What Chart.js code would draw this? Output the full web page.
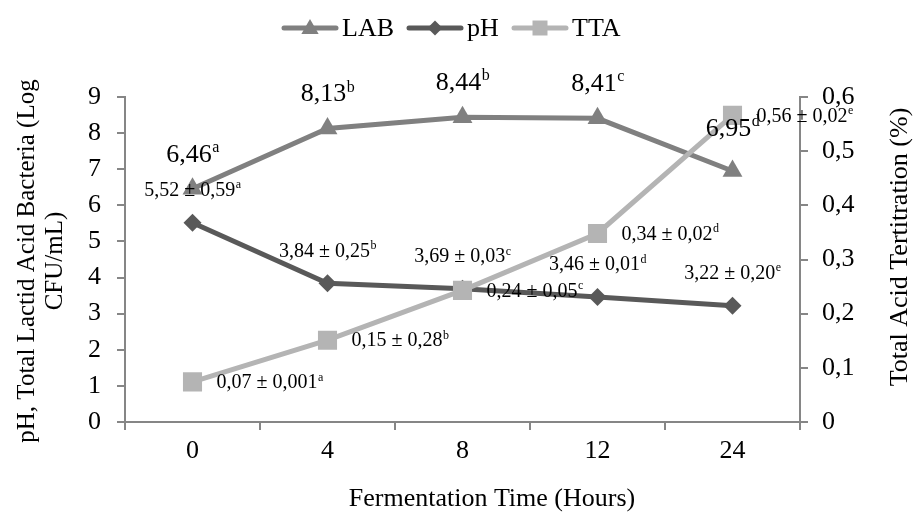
<!DOCTYPE html>
<html>
<head>
<meta charset="utf-8">
<script src="https://cdn.jsdelivr.net/npm/chart.js@4/dist/chart.umd.min.js"></script>
<style>
  html, body { margin: 0; padding: 0; background: #fff; }
  #wrap { width: 913px; height: 512px; position: relative; }
</style>
</head>
<body>
<div id="wrap"><canvas id="c"></canvas></div>
<script>
// ---- data ----
const categories = ['0', '4', '8', '12', '24'];
const labValues = [6.46, 8.13, 8.44, 8.41, 6.95];
const labSup = ['a', 'b', 'b', 'c', 'd'];
const phValues = [5.52, 3.84, 3.69, 3.46, 3.22];
const phSd = ['0,59', '0,25', '0,03', '0,01', '0,20'];
const phSup = ['a', 'b', 'c', 'd', 'e'];
const ttaValues = [0.074, 0.151, 0.243, 0.348, 0.566];
const ttaMean = ['0,07', '0,15', '0,24', '0,34', '0,56'];
const ttaSd = ['0,001', '0,28', '0,05', '0,02', '0,02'];
const ttaSup = ['a', 'b', 'c', 'd', 'e'];
const leftTickLabels = ['0', '1', '2', '3', '4', '5', '6', '7', '8', '9'];
const rightTickLabels = ['0', '0,1', '0,2', '0,3', '0,4', '0,5', '0,6'];
const seriesNames = ['LAB', 'pH', 'TTA'];
const leftTitle = ['pH, Total Lactid Acid Bacteria (Log', 'CFU/mL)'];
const rightTitle = 'Total Acid Tertitration (%)';
const xTitle = 'Fermentation Time (Hours)';

// ---- styles ----
const FONT = '"Liberation Serif", "Times New Roman", serif';
const C_LAB = 'rgb(128,128,128)';
const C_PH = 'rgb(89,89,89)';
const C_TTA = 'rgb(180,180,180)';
const C_AXIS = 'rgb(134,134,134)';

function fmt(v) { return String(v).replace('.', ','); }

function drawSup(ctx, x, y, main, sup, size, align) {
  ctx.font = size + 'px ' + FONT;
  const w1 = ctx.measureText(main).width;
  const ss = Math.round(size * 0.62);
  ctx.font = ss + 'px ' + FONT;
  const w2 = ctx.measureText(sup).width;
  const total = w1 + w2;
  const sx = align === 'center' ? x - total / 2 : x;
  ctx.textAlign = 'left';
  ctx.textBaseline = 'middle';
  ctx.fillStyle = '#000';
  ctx.font = size + 'px ' + FONT;
  ctx.fillText(main, sx, y);
  ctx.font = ss + 'px ' + FONT;
  ctx.fillText(sup, sx + w1 + 0.5, y - size * 0.27);
}

const labelPlugin = {
  id: 'labels',
  afterDatasetsDraw(chart) {
    const ctx = chart.ctx;
    ctx.save();
    const mLab = chart.getDatasetMeta(0).data;
    const mPh = chart.getDatasetMeta(1).data;
    const mTta = chart.getDatasetMeta(2).data;
    for (let i = 0; i < categories.length; i++) {
      drawSup(ctx, mLab[i].x, mLab[i].y - 34 - (i === 4 ? 8 : 0), fmt(labValues[i]), labSup[i], 26, 'center');
      drawSup(ctx, mPh[i].x, mPh[i].y - 32, fmt(phValues[i]) + ' \u00b1 ' + phSd[i], phSup[i], 20, 'center');
      drawSup(ctx, mTta[i].x + 24, mTta[i].y + 1, ttaMean[i] + ' \u00b1 ' + ttaSd[i], ttaSup[i], 20, 'left');
    }
    ctx.restore();
  }
};

function marker(ctx, type, x, y, r, color) {
  ctx.fillStyle = color;
  ctx.beginPath();
  if (type === 'triangle') {
    ctx.moveTo(x, y - r);
    ctx.lineTo(x + r * 0.866, y + r * 0.5);
    ctx.lineTo(x - r * 0.866, y + r * 0.5);
  } else if (type === 'rectRot') {
    ctx.moveTo(x, y - r); ctx.lineTo(x + r, y); ctx.lineTo(x, y + r); ctx.lineTo(x - r, y);
  } else {
    ctx.rect(x - r, y - r, 2 * r, 2 * r);
  }
  ctx.closePath();
  ctx.fill();
}

const decorPlugin = {
  id: 'decor',
  afterDraw(chart) {
    const ctx = chart.ctx;
    ctx.save();
    // legend
    const items = [
      { name: seriesNames[0], color: C_LAB, type: 'triangle', x0: 284, r: 10 },
      { name: seriesNames[1], color: C_PH, type: 'rectRot', x0: 409, r: 7.5 },
      { name: seriesNames[2], color: C_TTA, type: 'rect', x0: 514, r: 7.5 }
    ];
    const ly = 28;
    items.forEach(it => {
      ctx.strokeStyle = it.color;
      ctx.lineWidth = 5;
      ctx.lineCap = 'round';
      ctx.beginPath();
      ctx.moveTo(it.x0, ly);
      ctx.lineTo(it.x0 + 52, ly);
      ctx.stroke();
      marker(ctx, it.type, it.x0 + 26, ly + (it.type === 'triangle' ? 1 : 0), it.r, it.color);
      ctx.fillStyle = '#000';
      ctx.font = '26px ' + FONT;
      ctx.textAlign = 'left';
      ctx.textBaseline = 'middle';
      ctx.fillText(it.name, it.x0 + 58, ly + 1);
    });
    // axis titles
    ctx.fillStyle = '#000';
    ctx.textAlign = 'center';
    ctx.textBaseline = 'middle';
    ctx.font = '25px ' + FONT;
    ctx.save();
    ctx.translate(27, 261);
    ctx.rotate(-Math.PI / 2);
    ctx.fillText(leftTitle[0], 0, 0);
    ctx.restore();
    ctx.save();
    ctx.translate(55, 261);
    ctx.rotate(-Math.PI / 2);
    ctx.fillText(leftTitle[1], 0, 0);
    ctx.restore();
    ctx.font = '26px ' + FONT;
    ctx.save();
    ctx.translate(900, 247);
    ctx.rotate(-Math.PI / 2);
    ctx.fillText(rightTitle, 0, 0);
    ctx.restore();
    ctx.fillText(xTitle, 492, 499);
    ctx.restore();
  }
};

new Chart(document.getElementById('c'), {
  type: 'line',
  data: {
    labels: categories,
    datasets: [
      { label: seriesNames[0], data: labValues, yAxisID: 'y', borderColor: C_LAB, backgroundColor: C_LAB,
        borderWidth: 5, pointStyle: 'triangle', pointRadius: 11.5, pointBorderWidth: 0, order: 3, tension: 0 },
      { label: seriesNames[1], data: phValues, yAxisID: 'y', borderColor: C_PH, backgroundColor: C_PH,
        borderWidth: 5, pointStyle: 'rectRot', pointRadius: 9, pointBorderWidth: 0, order: 2, tension: 0 },
      { label: seriesNames[2], data: ttaValues, yAxisID: 'y1', borderColor: C_TTA, backgroundColor: C_TTA,
        borderWidth: 5, pointStyle: 'rect', pointRadius: 13.5, pointBorderWidth: 0, order: 1, tension: 0 }
    ]
  },
  options: {
    responsive: true,
    maintainAspectRatio: false,
    animation: false,
    layout: { padding: { top: 97, left: 0, right: 0, bottom: 0 } },
    plugins: { legend: { display: false }, tooltip: { enabled: false }, title: { display: false } },
    scales: {
      x: {
        type: 'category',
        offset: true,
        grid: { display: true, drawOnChartArea: false, offset: true, tickLength: 8, color: C_AXIS, lineWidth: 2 },
        border: { display: true, color: C_AXIS, width: 2 },
        ticks: { color: '#000', font: { family: FONT, size: 26 }, padding: 6, maxRotation: 0 },
        afterFit(s) { s.height = 90; }
      },
      y: {
        position: 'left',
        min: 0, max: 9,
        grid: { display: true, drawOnChartArea: false, tickLength: 8, color: C_AXIS, lineWidth: 2 },
        border: { display: true, color: C_AXIS, width: 2 },
        ticks: { stepSize: 1, color: '#000', font: { family: FONT, size: 26 }, padding: 16,
          callback: (v, i) => leftTickLabels[i] },
        afterFit(s) { s.width = 125; }
      },
      y1: {
        position: 'right',
        min: 0, max: 0.6,
        grid: { display: true, drawOnChartArea: false, tickLength: 8, color: C_AXIS, lineWidth: 2 },
        border: { display: true, color: C_AXIS, width: 2 },
        ticks: { stepSize: 0.1, color: '#000', font: { family: FONT, size: 26 }, padding: 14,
          callback: (v, i) => rightTickLabels[i] },
        afterFit(s) { s.width = 113; }
      }
    }
  },
  plugins: [labelPlugin, decorPlugin]
});
</script>
</body>
</html>
